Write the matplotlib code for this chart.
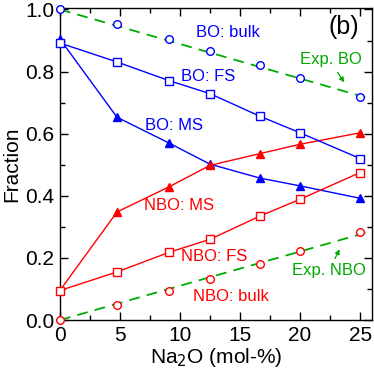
import matplotlib
matplotlib.use("Agg")
import matplotlib.pyplot as plt
from matplotlib.ticker import MultipleLocator

plt.rcParams['font.family'] = ['Liberation Sans', 'DejaVu Sans']

# Na2O content (mol-%)
x = [0, 4.76, 9.09, 12.5, 16.67, 20, 25]

bo_bulk = [1.0, 0.952, 0.906, 0.867, 0.821, 0.780, 0.718]
nbo_bulk = [0.0, 0.048, 0.094, 0.132, 0.180, 0.222, 0.282]
bo_fs = [0.892, 0.831, 0.771, 0.729, 0.656, 0.603, 0.520]
nbo_fs = [0.095, 0.155, 0.218, 0.260, 0.335, 0.389, 0.475]
bo_ms = [0.905, 0.653, 0.570, 0.502, 0.457, 0.432, 0.392]
nbo_ms = [0.095, 0.348, 0.429, 0.498, 0.536, 0.566, 0.603]

# experimental trend lines
exp_x = [0, 26]
exp_bo = [1.0, 0.711]
exp_nbo = [0.0, 0.287]

blue = '#0000ff'
red = '#ff0000'
green = '#00aa00'

fig = plt.figure(figsize=(3.74, 3.77), dpi=100)
ax = fig.add_axes([0.160, 0.151, 0.835, 0.828])

ax.plot(exp_x, exp_bo, color=green, lw=1.3, dashes=(6, 4), zorder=2)
ax.plot(exp_x, exp_nbo, color=green, lw=1.3, dashes=(6, 4), zorder=2)

ms = dict(clip_on=False, zorder=4)
ax.plot(x, bo_ms, color=blue, lw=1.0, marker='^', ms=6, **ms)
ax.plot(x, nbo_ms, color=red, lw=1.0, marker='^', ms=6, markevery=list(range(1, 7)), **ms)
ax.plot(x, bo_fs, color=blue, lw=1.0, marker='s', ms=5.2, mfc='white', mew=1.0, **ms)
ax.plot(x, nbo_fs, color=red, lw=1.0, marker='s', ms=5.2, mfc='white', mew=1.0, **ms)
ax.plot(x, bo_bulk, color=blue, lw=0, marker='o', ms=5.5, mfc='white', mew=1.0, **ms)
ax.plot(x, nbo_bulk, color=red, lw=0, marker='o', ms=5.5, mfc='white', mew=1.0, **ms)

fs = 12
ax.text(11.3, 0.926, 'BO: bulk', color=blue, fontsize=fs, va='center')
ax.text(10.1, 0.785, 'BO: FS', color=blue, fontsize=fs, va='center')
ax.text(7.1, 0.627, 'BO: MS', color=blue, fontsize=fs, va='center')
ax.text(7.0, 0.370, 'NBO: MS', color=red, fontsize=fs, va='center')
ax.text(10.1, 0.204, 'NBO: FS', color=red, fontsize=fs, va='center')
ax.text(11.1, 0.077, 'NBO: bulk', color=red, fontsize=fs, va='center')
ax.text(20.0, 0.838, 'Exp. BO', color=green, fontsize=fs, va='center')
ax.text(19.3, 0.158, 'Exp. NBO', color=green, fontsize=fs, va='center')
ax.annotate('', xy=(23.8, 0.758), xytext=(23.0, 0.805),
            arrowprops=dict(arrowstyle='-|>', color=green, lw=0.9, mutation_scale=7))
ax.annotate('', xy=(23.4, 0.236), xytext=(22.8, 0.190),
            arrowprops=dict(arrowstyle='-|>', color=green, lw=0.9, mutation_scale=7))
ax.text(22.4, 0.945, '(b)', color='black', fontsize=18, va='center')

ax.set_xlim(0, 26)
ax.set_ylim(0, 1.005)
ax.xaxis.set_major_locator(MultipleLocator(5))
ax.xaxis.set_minor_locator(MultipleLocator(2.5))
ax.yaxis.set_major_locator(MultipleLocator(0.2))
ax.yaxis.set_minor_locator(MultipleLocator(0.1))
ax.tick_params(which='both', direction='in', top=True, right=True, labelsize=15, width=1.0)
ax.tick_params(which='major', length=6, pad=4)
ax.tick_params(which='minor', length=3.5)
for s in ax.spines.values():
    s.set_linewidth(1.0)

ax.set_xlabel('Na$_2$O (mol-%)', fontsize=15, labelpad=1)
ax.set_ylabel('Fraction', fontsize=15, labelpad=3)

fig.savefig('out.png', dpi=100)
